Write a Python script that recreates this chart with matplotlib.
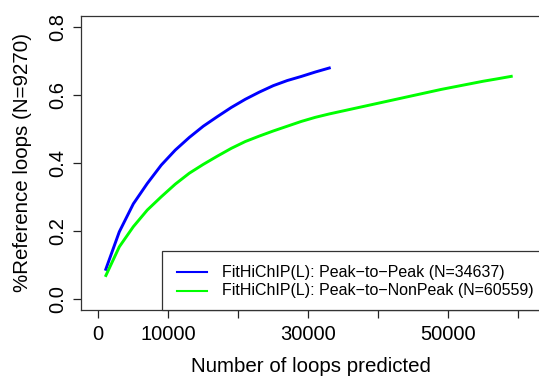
import matplotlib
matplotlib.use("Agg")
import matplotlib.pyplot as plt
from matplotlib.patches import Rectangle
from matplotlib.lines import Line2D

plt.rcParams['font.family'] = ['Liberation Sans', 'DejaVu Sans']

# Data
x_p2p = [1000, 3000, 5000, 7000, 9000, 11000, 13000, 15000, 17000, 19000,
         21000, 23000, 25000, 27000, 29000, 31000, 33200]
y_p2p = [0.084, 0.198, 0.280, 0.340, 0.394, 0.438, 0.475, 0.508, 0.536, 0.563,
         0.587, 0.608, 0.627, 0.642, 0.654, 0.667, 0.680]
x_p2np = [1000, 3000, 5000, 7000, 9000, 11000, 13000, 15000, 17000, 19000,
          21000, 23000, 25000, 27000, 29000, 31000, 33000, 35000, 37000, 39000,
          41000, 43000, 45000, 47000, 49000, 51000, 53000, 55000, 57000, 59200]
y_p2np = [0.066, 0.154, 0.213, 0.262, 0.301, 0.338, 0.370, 0.396, 0.420, 0.443,
          0.463, 0.479, 0.494, 0.508, 0.522, 0.534, 0.544, 0.553, 0.562, 0.571,
          0.580, 0.589, 0.598, 0.607, 0.616, 0.624, 0.632, 0.640, 0.647, 0.655]
labels = ["FitHiChIP(L): Peak\u2212to\u2212Peak (N=34637)",
          "FitHiChIP(L): Peak\u2212to\u2212NonPeak (N=60559)"]
colors = ["#0000FF", "#00FF00"]
x_ticks = [0, 10000, 20000, 30000, 40000, 50000, 60000]
x_ticklabels = ["0", "10000", "", "30000", "", "50000", ""]
y_ticks = [0.0, 0.2, 0.4, 0.6, 0.8]
y_ticklabels = ["0.0", "0.2", "0.4", "0.6", "0.8"]

W, H = 539, 376
fig = plt.figure(figsize=(W / 100, H / 100), dpi=100)

def fx(px):
    return px / W

def fy(py):
    return (H - py) / H

L, R, T, B = 81, 548, 16, 310
ax = fig.add_axes([fx(L), fy(B), (R - L) / W, (B - T) / H])
ax.plot(x_p2p, y_p2p, color=colors[0], lw=2.1, solid_capstyle='butt')
ax.plot(x_p2np, y_p2np, color=colors[1], lw=2.1, solid_capstyle='butt')
ax.set_xlim(-2471, 64246)
ax.set_ylim(-0.0314, 0.8314)

ax.set_xticks(x_ticks)
ax.set_xticklabels(x_ticklabels)
ax.set_yticks(y_ticks)
ax.set_yticklabels(y_ticklabels, rotation=90, va='center')
ax.tick_params(axis='both', length=5.8, width=0.9, color='#222222', labelsize=14.5)
ax.tick_params(axis='x', pad=5)
ax.tick_params(axis='y', pad=4)
for s in ax.spines.values():
    s.set_linewidth(0.9)
    s.set_color('#333333')

fig.text(fx(23), fy(163), "%Reference loops (N=9270)", rotation=90,
         ha='center', va='center', fontsize=14.8)
fig.text(fx(310.5), fy(366), "Number of loops predicted", ha='center', va='center',
         fontsize=14.8)

# Legend (bottom right)
rect = Rectangle((fx(162.3), fy(310)), fx(600) - fx(162.3), fy(251) - fy(310),
                 transform=fig.transFigure, facecolor='white', edgecolor='#333333',
                 linewidth=0.9, zorder=5)
fig.add_artist(rect)
for i, (lab, col, yy) in enumerate(zip(labels, colors, [272.3, 290.7])):
    fig.add_artist(Line2D([fx(176.7), fx(207.3)], [fy(yy), fy(yy)],
                          transform=fig.transFigure, color=col, lw=1.5, zorder=6))
    fig.text(fx(221.7), fy(yy), lab, ha='left', va='center', fontsize=11.5, zorder=6)

fig.savefig("out.png", dpi=100)
